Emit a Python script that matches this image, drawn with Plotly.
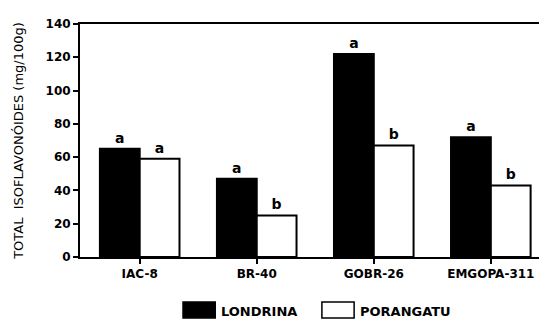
import plotly.graph_objects as go

categories = ["IAC-8", "BR-40", "GOBR-26", "EMGOPA-311"]
londrina = [65, 47, 122, 72]
porangatu = [59, 25, 67, 43]
londrina_letters = ["a", "a", "a", "a"]
porangatu_letters = ["a", "b", "b", "b"]
series_names = ["LONDRINA", "PORANGATU"]
y_ticks = [0, 20, 40, 60, 80, 100, 120, 140]

FONT = "DejaVu Sans"

fig = go.Figure()
fig.add_trace(go.Bar(
    x=categories, y=londrina, name=series_names[0],
    marker=dict(color="black", line=dict(color="black", width=2)),
    text=["<b>" + t + "</b>" for t in londrina_letters], textposition="outside",
    textfont=dict(family=FONT, size=14, color="black"),
    cliponaxis=False, showlegend=False,
))
fig.add_trace(go.Bar(
    x=categories, y=porangatu, name=series_names[1],
    marker=dict(color="white", line=dict(color="black", width=2)),
    text=["<b>" + t + "</b>" for t in porangatu_letters], textposition="outside",
    textfont=dict(family=FONT, size=14, color="black"),
    cliponaxis=False, showlegend=False,
))

# custom legend (boxes + labels)
legend_items = [(0.2206, "black", series_names[0]), (0.518, "white", series_names[1])]
for x0, col, name in legend_items:
    fig.add_shape(type="rect", xref="paper", yref="paper",
                  x0=x0, x1=x0 + 0.069, y0=-0.262, y1=-0.193,
                  fillcolor=col, line=dict(color="black", width=1.5))
    fig.add_annotation(xref="paper", yref="paper", x=x0 + 0.078, y=-0.232,
                       text="<b>" + name + "</b>", showarrow=False,
                       xanchor="left", yanchor="middle",
                       font=dict(family=FONT, size=13, color="black"))

# page body has an 8px margin: compensate so the plot lands where the reference has it
fig.update_layout(
    width=539, height=315,
    margin=dict(l=72, r=0, t=16, b=66),
    paper_bgcolor="white", plot_bgcolor="white",
    barmode="group", bargap=0.32, bargroupgap=0,
    font=dict(family=FONT, color="black"),
)
fig.update_xaxes(
    range=[-0.51, 3.48], showline=True, linecolor="black", linewidth=2,
    mirror=True, ticks="outside", ticklen=5, tickwidth=2, tickcolor="black",
    showgrid=False, tickfont=dict(family=FONT, size=12, color="black"),
    tickvals=categories, ticktext=["<b>" + c + "</b>" for c in categories],
)
fig.update_yaxes(
    range=[0, 140], tickvals=y_ticks, showline=True, linecolor="black",
    linewidth=2, ticks="outside", ticklen=5, tickwidth=2, tickcolor="black",
    showgrid=False, zeroline=False,
    ticktext=["<b>%d</b>" % v for v in y_ticks],
    tickfont=dict(family=FONT, size=12, color="black"),
    title=dict(text="TOTAL  ISOFLAVONÓIDES (mg/100g)",
               font=dict(family=FONT, size=13, color="black"), standoff=19),
)

fig.write_html("out.html")
